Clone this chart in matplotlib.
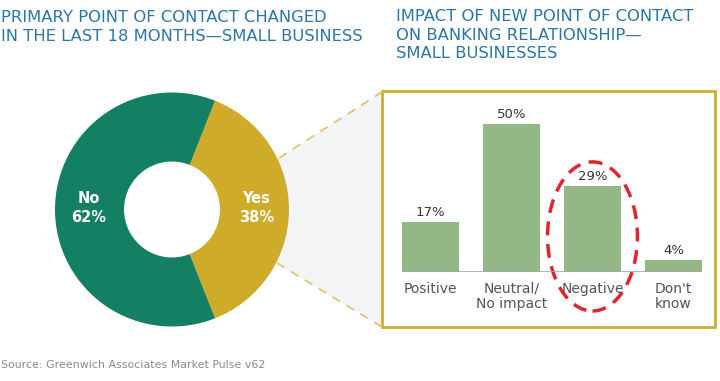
import matplotlib.pyplot as plt
from matplotlib.patches import Polygon, Rectangle, Ellipse

# donut data
pie_labels = ["Yes", "No"]
pie_values = [38, 62]
pie_colors = ["#cfab2a", "#137f63"]

# bar data
categories = ["Positive", "Neutral/\nNo impact", "Negative", "Don't\nknow"]
values = [17, 50, 29, 4]
highlight = 2  # "Negative"

title_blue = "#2b76a5"
gold = "#d2ac2c"

fig = plt.figure(figsize=(7.2, 3.81), dpi=100)

# background layer in pixel coordinates
bg = fig.add_axes([0, 0, 1, 1])
bg.set_xlim(0, 720)
bg.set_ylim(381, 0)
bg.axis("off")

# grey callout linking the donut to the box
bg.add_patch(Polygon([(240, 158), (279, 158), (382, 92), (382, 327),
                      (277, 263), (240, 263)],
                     closed=True, facecolor="#f3f4f6", edgecolor="none"))
bg.plot([279, 382], [158, 92], color="#e3c36e", lw=1.3, ls=(0, (5, 4)))
bg.plot([277, 382], [263, 327], color="#e3c36e", lw=1.3, ls=(0, (5, 4)))
bg.add_patch(Rectangle((382, 91), 333, 236, facecolor="white",
                       edgecolor=gold, lw=2))

bg.text(1, 10, "PRIMARY POINT OF CONTACT CHANGED\nIN THE LAST 18 MONTHS\u2014SMALL BUSINESS",
        color=title_blue, fontsize=11.8, va="top", ha="left", linespacing=1.33)
bg.text(396, 9, "IMPACT OF NEW POINT OF CONTACT\nON BANKING RELATIONSHIP\u2014\nSMALL BUSINESSES",
        color=title_blue, fontsize=11.8, va="top", ha="left", linespacing=1.3)
bg.text(1, 365, "Source: Greenwich Associates Market Pulse v62",
        color="#8a8a8a", fontsize=7.9, va="center", ha="left")

# donut
cx, cy, r = 172, 209.5, 117
pax = fig.add_axes([(cx - r) / 720, (381 - cy - r) / 381, 2 * r / 720, 2 * r / 381])
wedges, _ = pax.pie(pie_values, colors=pie_colors, startangle=-68.4,
                    counterclock=True, radius=1,
                    wedgeprops=dict(width=0.59, edgecolor="none"))
pax.set_xlim(-1, 1)
pax.set_ylim(-1, 1)
pax.text(0.72, 0.01, "%s\n%d%%" % (pie_labels[0], pie_values[0]), color="white",
         fontsize=10.5, fontweight="semibold", ha="center", va="center", linespacing=1.35)
pax.text(-0.71, 0.01, "%s\n%d%%" % (pie_labels[1], pie_values[1]), color="white",
         fontsize=10.5, fontweight="semibold", ha="center", va="center", linespacing=1.35)

# bars
ax = fig.add_axes([390 / 720, (381 - 272) / 381, 324 / 720, 163 / 381])
ax.patch.set_alpha(0)
x = list(range(len(values)))
w = 0.7
ax.bar(x, values, width=w, color="#93b886")
ax.hlines(0, x[0] - w / 2, x[-1] + w / 2, color="#a8a8a8", lw=1.2, zorder=3)
for xi, v in zip(x, values):
    ax.annotate("%d%%" % v, (xi, v), xytext=(0, 2), textcoords="offset points",
                ha="center", va="bottom", fontsize=9.5, color="#333333")
ax.set_xlim(-0.5, 3.5)
ax.set_ylim(0, 55)
ax.set_xticks(x)
ax.set_xticklabels(categories, fontsize=10, color="#555555", linespacing=1.1)
ax.tick_params(axis="x", length=0, pad=7)
ax.set_yticks([])
for s in ax.spines.values():
    s.set_visible(False)

ax.add_patch(Ellipse((highlight, 12), 1.11, 50.3, fill=False,
                     edgecolor="#e0262b", lw=2.5, ls=(0, (4, 2.5)), clip_on=False))

fig.savefig("out.png", dpi=100)
